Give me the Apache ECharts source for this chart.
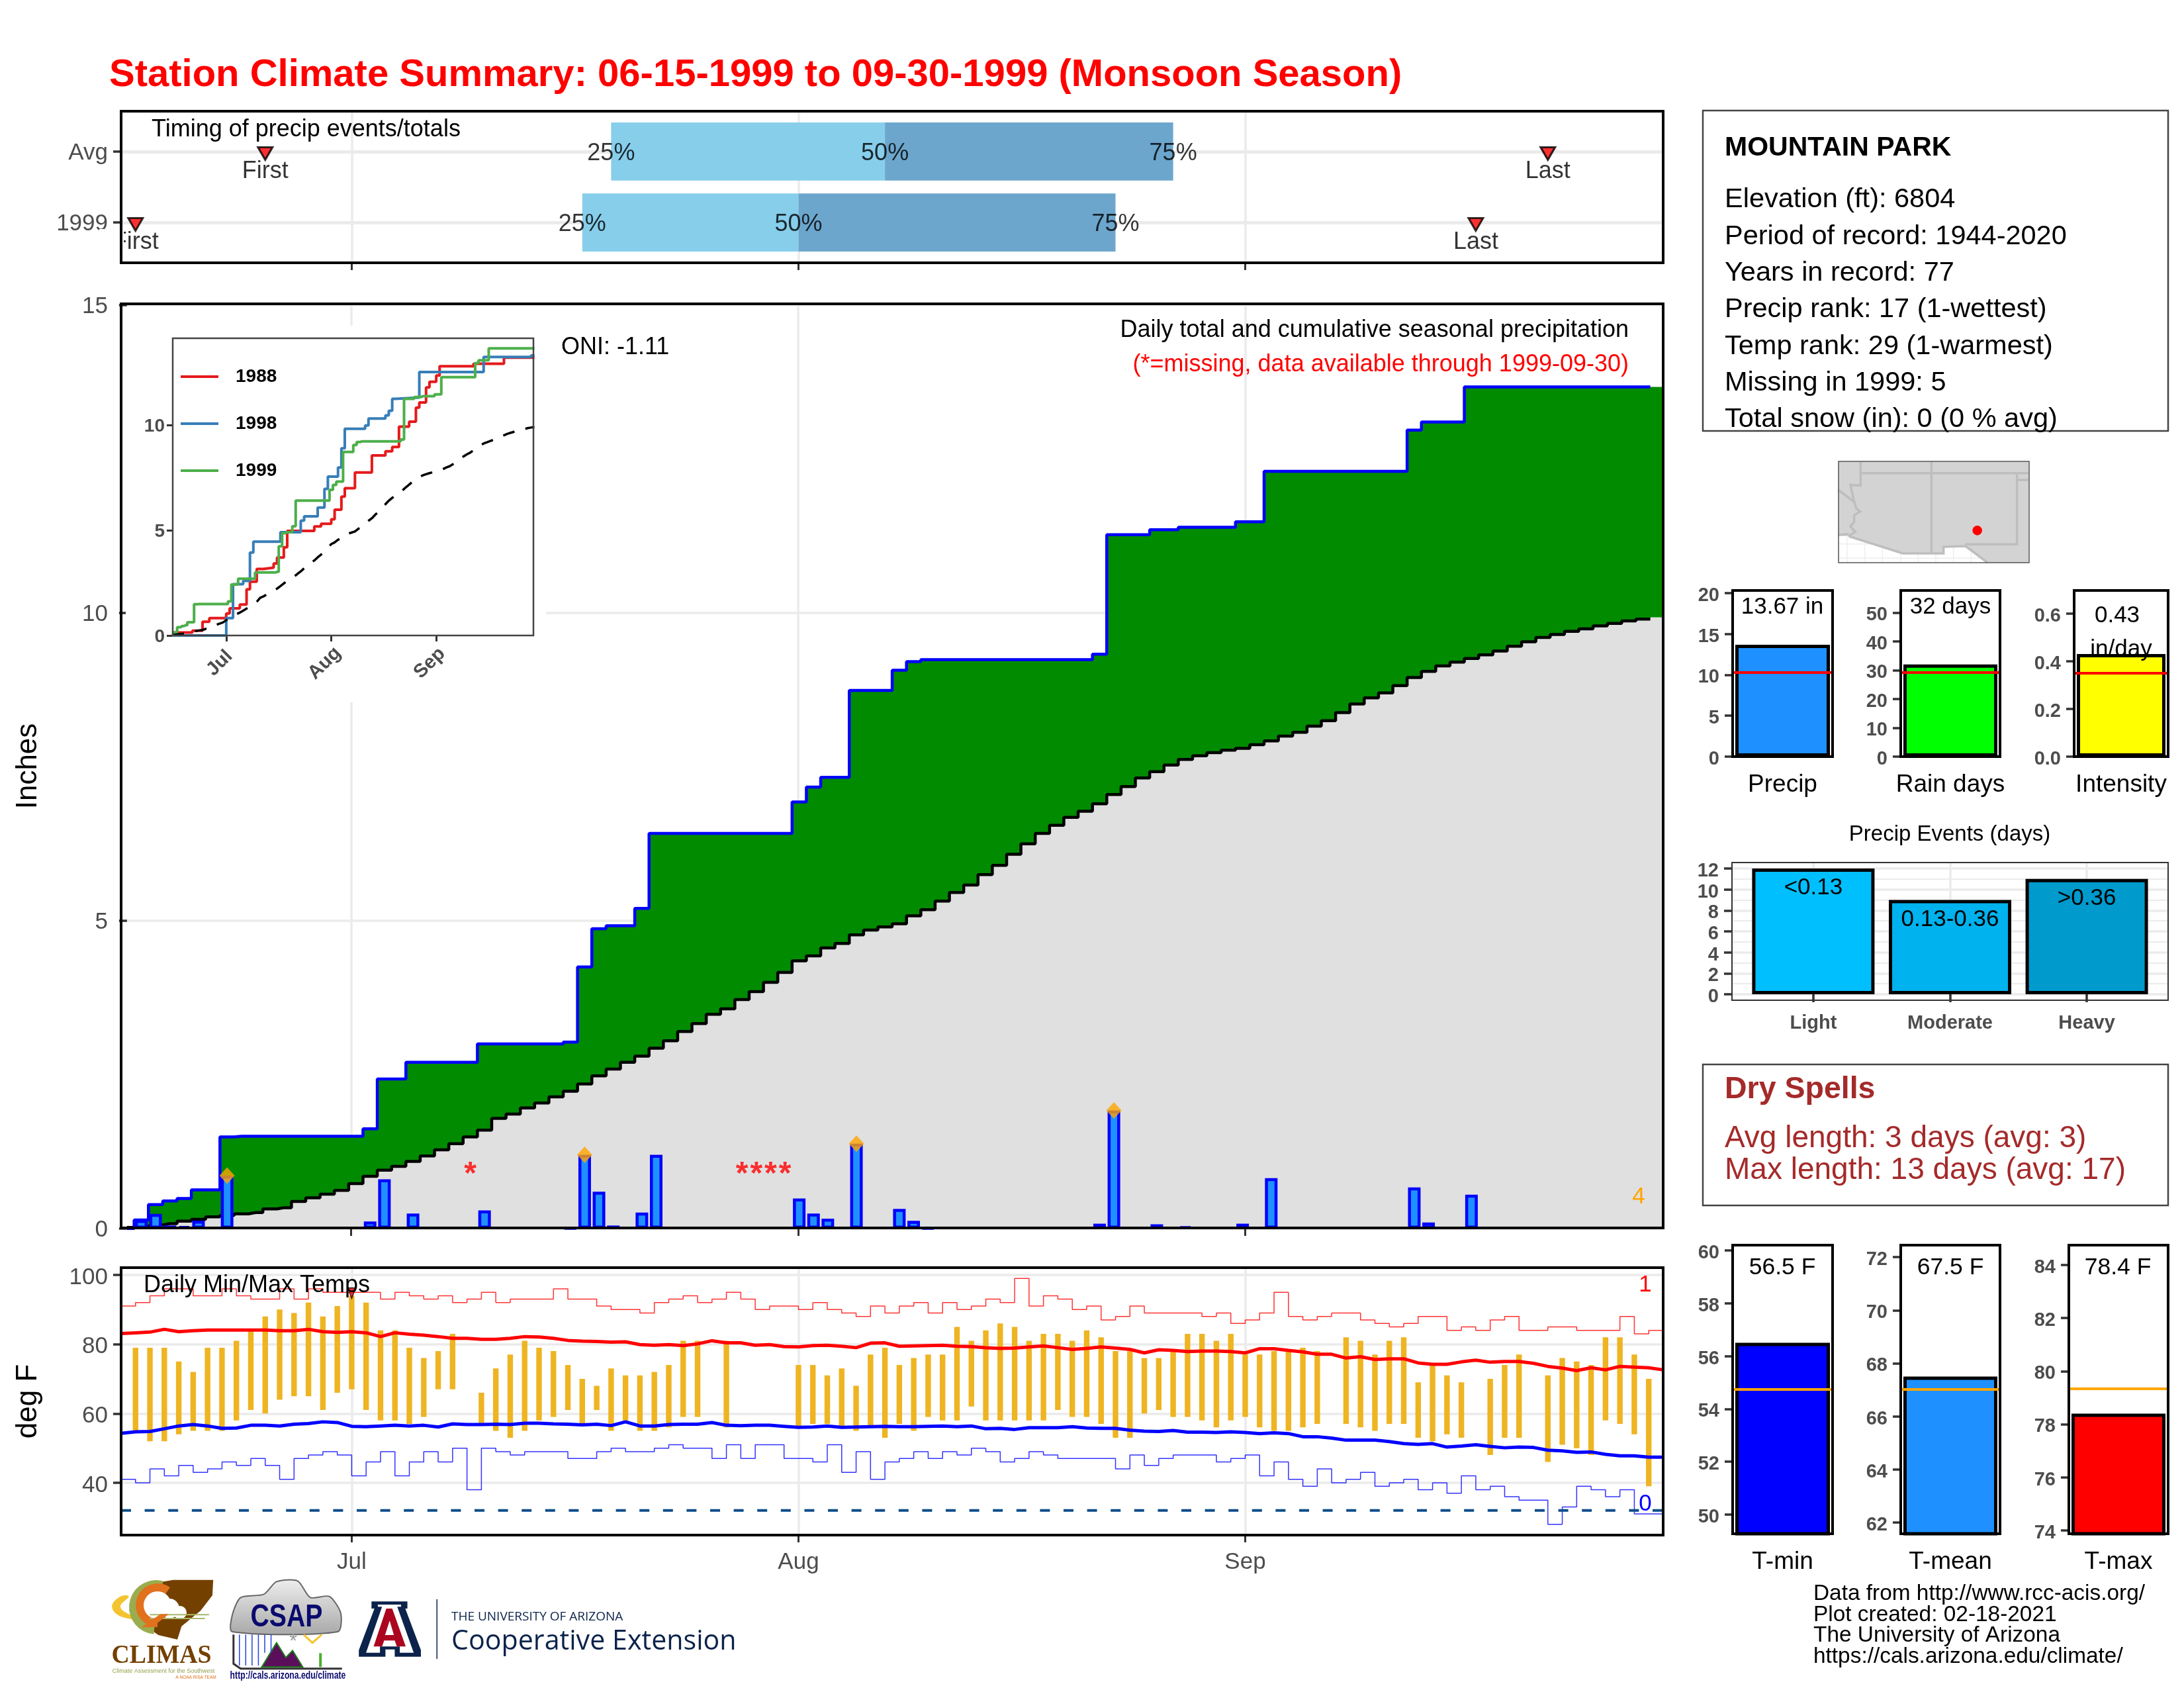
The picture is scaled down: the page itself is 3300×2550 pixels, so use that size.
<!DOCTYPE html>
<html>
<head>
<meta charset="utf-8">
<title>Station Climate Summary</title>
<script src="https://cdn.jsdelivr.net/npm/echarts@6/dist/echarts.min.js"></script>
<style>
html, body { margin: 0; padding: 0; background: #fff; }
#chart { width: 3300px; height: 2550px; }
</style>
</head>
<body>
<div id="chart"></div>
<script>
// day index: 0 = Jun 15, 16 = Jul 1, 47 = Aug 1, 78 = Sep 1, 107 = Sep 30
var monthDays = [16, 47, 78];
var monthNames = ['Jul', 'Aug', 'Sep'];
// the precip panel is plotted per row of data, so its month ticks sit a little off the day index
var precipMonthTicks = [15.66, 46.92, 78.17];

// timing panel
var timingRows = [2, 1];
var timingLabels = ['Avg', '1999'];
var pct25 = [34, 32];
var pct50 = [53, 47];
var pct75 = [73, 69];
var firstDay = [10, 1];
var lastDay = [99, 94];

// daily precip (in), 0 = nothing drawn
var precipDaily = [
  0, .14, .24, .05, .04, .13, 0, .86, 0, 0, 0, 0, 0, 0, 0, 0, 0, .115, .80, 0,
  .245, 0, 0, 0, 0, .295, 0, 0, 0, 0, 0, .01, 1.2, .60, .05, 0, .26, 1.2, 0, 0,
  0, 0, 0, 0, 0, 0, 0, .49, .245, .16, 0, 1.38, 0, 0, .32, .125, .01, 0, 0, 0,
  0, 0, 0, 0, 0, 0, 0, 0, .08, 1.92, 0, 0, .07, 0, .03, 0, 0, 0, .08, 0,
  .82, 0, 0, 0, 0, 0, 0, 0, 0, 0, .67, .10, 0, 0, .55, 0, 0, 0, 0, 0,
  0, 0, 0, 0, 0, 0, 0, 0
];
var cum1999 = [
  0, .14, .39, .45, .49, .63, .63, 1.49, 1.5, 1.5, 1.5, 1.5, 1.5, 1.5, 1.5, 1.5, 1.5, 1.62, 2.43, 2.43,
  2.7, 2.7, 2.7, 2.7, 2.7, 3, 3, 3, 3, 3, 3, 3.03, 4.25, 4.87, 4.92, 4.92, 5.2, 6.42, 6.42, 6.42,
  6.42, 6.42, 6.42, 6.42, 6.42, 6.42, 6.42, 6.93, 7.17, 7.33, 7.33, 8.74, 8.74, 8.74, 9.07, 9.21, 9.24, 9.24, 9.24, 9.24,
  9.24, 9.24, 9.24, 9.24, 9.24, 9.24, 9.24, 9.24, 9.33, 11.27, 11.27, 11.27, 11.35, 11.35, 11.39, 11.39, 11.39, 11.39, 11.48, 11.48,
  12.3, 12.3, 12.3, 12.3, 12.3, 12.3, 12.3, 12.3, 12.3, 12.3, 12.97, 13.1, 13.1, 13.1, 13.67, 13.67, 13.67, 13.67, 13.67, 13.67,
  13.67, 13.67, 13.67, 13.67, 13.67, 13.67, 13.67, 13.67
];
var cumAvg = [
  .02, .04, .06, .08, .12, .15, .19, .215, .24, .26, .32, .34, .44, .5, .56, .62, .73, .85, .95, 1.01,
  1.09, 1.18, 1.28, 1.38, 1.49, 1.6, 1.79, 1.86, 1.96, 2.04, 2.14, 2.23, 2.35, 2.48, 2.59, 2.7, 2.8, 2.93, 3.05, 3.2,
  3.33, 3.48, 3.57, 3.72, 3.85, 4, 4.16, 4.35, 4.43, 4.56, 4.63, 4.77, 4.85, 4.9, 4.95, 5.08, 5.18, 5.32, 5.46, 5.58,
  5.75, 5.9, 6.08, 6.25, 6.42, 6.55, 6.68, 6.78, 6.9, 7.05, 7.18, 7.32, 7.42, 7.53, 7.62, 7.68, 7.73, 7.77, 7.8, 7.86,
  7.92, 8, 8.06, 8.16, 8.25, 8.38, 8.52, 8.62, 8.7, 8.82, 8.95, 9.05, 9.14, 9.2, 9.26, 9.32, 9.38, 9.46, 9.53, 9.6,
  9.65, 9.7, 9.74, 9.79, 9.83, 9.87, 9.9, 9.93
];
var missingDays = [24, 43, 44, 45, 46];
var missingLevel = .97;
var heavyDays = [7, 32, 51, 69];

// inset comparison years, each pair is [day, total from that day on]
var steps1988 = [[0,.14],[6,.23],[9,.65],[11,.83],[16,1.05],[17,1.29],[20,1.47],[22,2.2],[23,2.56],[25,3.17],[27,3.23],[30,3.43],[31,3.71],[33,4.2],[34,4.98],[42,5.19],[44,5.32],[47,5.53],[48,5.99],[50,6.61],[51,7.01],[54,7.76],[59,8.57],[63,8.77],[65,8.97],[67,9.94],[70,10.18],[72,10.85],[73,11.09],[75,11.81],[76,12.08],[78,12.38],[79,12.82],[89,12.94],[98,13.23],[107,13.23]];
var steps1998 = [[0,0],[16,.83],[18,2.44],[21,2.6],[23,3.95],[24,4.47],[32,4.92],[38,5.47],[39,5.67],[43,6.09],[45,6.98],[46,7.56],[49,8],[50,8.91],[51,9.84],[57,10],[58,10.33],[63,10.48],[64,10.7],[65,11.27],[66,11.33],[73,12.54],[92,13.26],[106,13.33],[107,13.33]];

// daily temps (F)
var tempHi = [
  null, 79, 79, 79, 75, 72, 79, 79, 81, 84, 88, 90, 89, 92, 88, 91, 94, 92, 84, 84,
  79, 76, 78, 83, null, 66, 73, 77, 81, 79, 78, 74, 70, 68, 73, 71, 71, 72, 74, 81,
  81, null, 81, null, null, null, null, 74, 74, 71, 73, 68, 77, 79, 74, 76, 77, 77, 85, 81,
  84, 86, 85, 81, 83, 83, 81, 84, 82, 78, 78, 76, 76, 78, 83, 83, 81, 83, 77, 77,
  78, 78, 79, 78, null, 82, 81, 77, 81, 82, 69, 74, 71, 69, null, 70, 74, 77, null, 71,
  76, 75, 74, 82, 82, 77, 70, null
];
var tempLo = [
  null, 55, 52, 52, 54, 55, 55, 55, 58, 61, 60, 64, 65, 65, 61, 66, 67, 61, 58, 58,
  57, 59, 67, 67, null, 57, 55, 53, 55, 58, 59, 61, 57, 61, 55, 58, 55, 55, 56, 59,
  59, null, 56, null, null, null, null, 56, 57, 57, 56, 55, 56, 53, 57, 55, 59, 58, 58, 62,
  58, 58, 58, 58, 58, 61, 59, 59, 57, 53, 53, 60, 61, 59, 59, 58, 56, 58, 59, 56,
  55, 55, 56, 57, null, 57, 56, 55, 57, 57, 53, 52, 54, 53, null, 48, 53, 53, null, 46,
  51, 50, 48, 58, 57, 54, 39, null
];
var recordHigh = [
  91, 92, 94, 96, 96, 94, 94, 96, 94, 93, 93, 96, 93, 96, 95, 95, 95, 95, 93, 95,
  94, 93, 94, 92, 93, 95, 92, 93, 93, 93, 96, 93, 93, 91, 90, 90, 89, 92, 93, 94,
  92, 93, 95, 93, 90, 91, 91, 90, 92, 90, 89, 88, 91, 89, 91, 92, 89, 92, 90, 91,
  93, 92, 99, 91, 94, 93, 90, 91, 87, 88, 91, 89, 89, 89, 89, 88, 89, 86, 87, 89,
  95, 88, 87, 88, 89, 89, 87, 86, 85, 86, 88, 88, 84, 85, 84, 87, 88, 84, 84, 85,
  85, 84, 84, 84, 88, 83, 84
];
var recordLow = [
  41, 40, 44, 42, 45, 43, 44, 46, 45, 47, 45, 41, 47, 48, 49, 48, 42, 46, 49, 42,
  46, 49, 46, 50, 38, 50, 49, 48, 49, 49, 49, 47, 47, 49, 50, 49, 49, 50, 51, 50,
  50, 47, 51, 47, 51, 51, 47, 47, 46, 51, 43, 49, 41, 46, 47, 49, 47, 49, 48, 50,
  49, 46, 47, 49, 48, 47, 47, 47, 47, 44, 48, 45, 47, 48, 48, 48, 46, 47, 48, 42,
  46, 41, 39, 44, 40, 41, 43, 39, 40, 41, 38, 40, 37, 42, 38, 39, 36, 35, 35, 28,
  33, 39, 38, 36, 38, 31, 31
];
var avgHigh = [
  83.1, 83.3, 83.5, 84.3, 83.6, 83.9, 84.1, 84.1, 84.1, 84.1, 84.1, 83.9, 83.9, 84.3, 83.6, 83.4, 83.6, 83.3, 82.2, 83.3,
  82.9, 82.6, 82.2, 81.7, 81.7, 81.4, 81.4, 81.7, 82.2, 82.1, 81.7, 81.1, 80.9, 80.8, 80.6, 80.7, 79.9, 79.7, 79.9, 79.6,
  80.1, 81, 80.4, 80.4, 79.7, 79.9, 79.3, 79.2, 79.6, 79.7, 79.4, 79, 80.3, 80.4, 79.4, 79.5, 79.6, 79.7, 79.4, 79.3,
  79, 78.8, 78.9, 79.2, 79.5, 79, 78.5, 78.8, 79.2, 78.9, 78.5, 77.5, 78.4, 78.2, 77.9, 78, 78, 77.9, 77.5, 78.7,
  78.7, 78.2, 77.8, 77.1, 77.1, 76, 76.4, 75.6, 75.8, 75.8, 74.6, 74.2, 74.2, 74.9, 75.4, 74.8, 75, 75, 74.5, 73.6,
  73.1, 72.4, 73.2, 72.6, 73.6, 73.4, 73.2, 72.6
];
var avgLow = [
  54.3, 54.7, 54.8, 55.6, 56.4, 56.8, 56.4, 55.7, 55.8, 56.6, 56.6, 56.4, 56.9, 57.1, 57.6, 57.4, 56.3, 56.2, 56.4, 56.6,
  56.4, 56.6, 56.1, 57, 56.8, 56.8, 56.9, 56.8, 57.2, 57.2, 57, 56.9, 56.7, 56.9, 56.5, 57.6, 56.4, 56.4, 56.8, 56.9,
  56.9, 57.4, 56.6, 56.5, 56.6, 56.6, 56.3, 56, 56.1, 56.4, 56, 56.1, 56.2, 56.3, 56.2, 56.2, 56.3, 56.4, 56.2, 56.4,
  55.6, 55.7, 55.4, 55.9, 55.9, 55.9, 56.2, 55.8, 55.7, 55.7, 55.2, 54.9, 54.8, 55.1, 54.6, 54.6, 54.5, 54.7, 54.5, 54.2,
  54.4, 54.2, 53.3, 53.3, 52.9, 52.3, 52.3, 52.3, 51.9, 51.3, 51.1, 51.3, 50.3, 50.6, 51, 50.5, 50.1, 50.3, 50.2, 49.4,
  49.2, 48.8, 48.9, 48.2, 47.8, 47.8, 47.4, 47.4
];
var freezeLine = 32;
var recordMarkDay = 16, recordMarkTemp = 94.7;

// summary bars
var precipSummary = { name: 'Precip', value: 13.67, avg: 10.3, ticks: [0, 5, 10, 15, 20], max: 20.3 };
var rainSummary = { name: 'Rain days', value: 32, avg: 29.3, ticks: [0, 10, 20, 30, 40, 50], max: 57.7 };
var intensitySummary = { name: 'Intensity', value: .43, avg: .352, ticks: [0, .2, .4, .6], max: .696 };
var tminSummary = { name: 'T-min', value: 56.5, avg: 54.73, ticks: [50, 52, 54, 56, 58, 60], min: 49.27, max: 60.2 };
var tmeanSummary = { name: 'T-mean', value: 67.5, avg: 67.03, ticks: [62, 64, 66, 68, 70, 72], min: 61.58, max: 72.45 };
var tmaxSummary = { name: 'T-max', value: 78.4, avg: 79.33, ticks: [74, 76, 78, 80, 82, 84], min: 73.87, max: 84.75 };
var eventNames = ['Light', 'Moderate', 'Heavy'];
var eventDays = [12, 9, 11];
var eventLabels = ['<0.13', '0.13-0.36', '>0.36'];
var eventColors = ['#00BFFF', '#00B2EE', '#009ACD'];

var infoLines = ['Elevation (ft): 6804', 'Period of record: 1944-2020', 'Years in record: 77', 'Precip rank: 17 (1-wettest)', 'Temp rank: 29 (1-warmest)', 'Missing in 1999: 5', 'Total snow (in): 0 (0 % avg)'];
var footLines = ['Data from http://www.rcc-acis.org/', 'Plot created: 02-18-2021', 'The University of Arizona', 'https://cals.arizona.edu/climate/'];

var FONT = '"Liberation Sans", Arial, sans-serif';
var GRID = '#EBEBEB', TICK = '#333333', LABEL = '#4D4D4D';

function pairs(arr) {
    return arr.map(function (v, i) { return [i, v]; }).filter(function (p) { return p[1] !== null; });
}

// grid from pixel box, outerBoundsMode off so long axis names do not shrink it
function box(l, t, r, b) {
    return { left: l, top: t, width: r - l, height: b - t, containLabel: false, outerBoundsMode: 'none' };
}

function txt(x, y, s, size, opt) {
    opt = opt || {};
    return {
        type: 'text', z: opt.z || 50, rotation: opt.rotation || 0, x: x, y: y, scaleX: opt.scaleX || 1,
        style: {
            text: s, fill: opt.color || '#000',
            font: (opt.weight || 'normal') + ' ' + size + 'px ' + (opt.family || FONT),
            align: opt.align || 'left', textAlign: opt.align || 'left',
            verticalAlign: 'middle', textVerticalAlign: 'middle', textBaseline: 'middle'
        }
    };
}

function border(l, t, r, b, w, color) {
    return {
        type: 'rect', z: 40, shape: { x: l, y: t, width: r - l, height: b - t },
        style: { fill: 'none', stroke: color || '#000', lineWidth: w || 4 }
    };
}

function monthAxis(gridIndex, withLabels, size) {
    return {
        type: 'value', gridIndex: gridIndex, min: 0, max: 107,
        axisLine: { show: false },
        axisTick: { show: true, length: 11, customValues: monthDays, lineStyle: { color: TICK, width: 3 } },
        axisLabel: {
            show: !!withLabels, customValues: monthDays, fontFamily: FONT, fontSize: size || 35, color: LABEL, margin: 24,
            formatter: function (v) { return monthNames[monthDays.indexOf(v)]; }
        },
        splitLine: { show: true, lineStyle: { color: GRID, width: 3.5 } }
    };
}

function valueAxis(gridIndex, min, max, ticks, opt) {
    opt = opt || {};
    var pad = opt.labelPad === undefined ? 8 : opt.labelPad;
    var fmt = opt.formatter || String;
    return {
        type: 'value', gridIndex: gridIndex, min: min, max: max,
        name: opt.name, nameLocation: 'middle', nameGap: opt.nameGap, nameRotate: 90,
        nameTextStyle: { fontFamily: FONT, fontSize: 44, color: '#000' },
        axisLine: { show: false },
        axisTick: { show: true, length: 12, customValues: ticks, lineStyle: { color: TICK, width: 3.5 } },
        axisLabel: {
            show: true, customValues: ticks, margin: opt.margin || 20,
            formatter: function (v) { return '{t|' + fmt(v) + '}'; },
            // rich padding, plain padding does not move the tick labels
            rich: { t: { fontFamily: FONT, fontSize: opt.size || 35, color: LABEL, fontWeight: opt.weight || 'normal', padding: [pad, 0, 0, 0] } }
        },
        splitLine: { show: !!opt.grid, lineStyle: { color: GRID, width: opt.gridWidth || 3.5 } }
    };
}

var grids = [], xAxes = [], yAxes = [], series = [], graphics = [];

// timing panel
grids.push(box(183, 168, 2513, 397));
xAxes.push(monthAxis(0, false));
yAxes.push(valueAxis(0, .43, 2.57, timingRows, {
    grid: true, gridWidth: 5, labelPad: 4,
    formatter: function (v) { return timingLabels[timingRows.indexOf(v)]; }
}));
var timingBands = [];
timingRows.forEach(function (row, i) {
    timingBands.push([row, pct25[i], pct50[i], '#87CEEB']);
    timingBands.push([row, pct50[i], pct75[i], '#6CA6CD']);
});
series.push({
    type: 'custom', xAxisIndex: 0, yAxisIndex: 0, z: 2, data: timingBands,
    renderItem: function (params, api) {
        var row = timingBands[params.dataIndex];
        var a = api.coord([row[1], row[0] + .41]);
        var b = api.coord([row[2], row[0] - .41]);
        return { type: 'rect', shape: { x: a[0], y: a[1], width: b[0] - a[0], height: b[1] - a[1] }, style: { fill: row[3] } };
    }
});
var pctLabelData = [];
timingRows.forEach(function (row, i) {
    pctLabelData.push({ value: [pct25[i], row], name: '25%' });
    pctLabelData.push({ value: [pct50[i], row], name: '50%' });
    pctLabelData.push({ value: [pct75[i], row], name: '75%' });
});
series.push({
    type: 'scatter', xAxisIndex: 0, yAxisIndex: 0, z: 3, symbolSize: 1, itemStyle: { color: 'none' },
    data: pctLabelData,
    label: { show: true, position: 'inside', offset: [0, 3], formatter: '{b}', fontFamily: FONT, fontSize: 36, color: '#000' }
});
var eventMarks = [];
timingRows.forEach(function (row, i) {
    eventMarks.push({ value: [firstDay[i], row], name: 'First' });
    eventMarks.push({ value: [lastDay[i], row], name: 'Last' });
});
series.push({
    type: 'scatter', xAxisIndex: 0, yAxisIndex: 0, z: 4, symbol: 'triangle', symbolRotate: 180, symbolSize: [22, 19],
    symbolOffset: [0, 3], itemStyle: { color: '#FF0000', borderColor: '#000', borderWidth: 3 },
    data: eventMarks,
    label: { show: true, position: 'bottom', distance: -2, formatter: '{b}', fontFamily: FONT, fontSize: 36, color: '#000' }
});

// main precip panel
grids.push(box(183, 459, 2513, 1856));
var mainX = monthAxis(1, false);
mainX.min = -.41;
mainX.max = 107.4;
mainX.axisTick.customValues = precipMonthTicks;
mainX.axisLabel.customValues = precipMonthTicks;
mainX.containShape = false;
xAxes.push(mainX);
yAxes.push(valueAxis(1, 0, 15.02, [0, 5, 10, 15], { grid: true, name: 'Inches', nameGap: 118, labelPad: 4 }));
series.push({
    type: 'line', xAxisIndex: 1, yAxisIndex: 1, z: 2, step: 'middle', showSymbol: false,
    data: pairs(cum1999).concat([[107.4, cum1999[107]]]),
    lineStyle: { width: 0 }, areaStyle: { color: '#008B00', opacity: 1 }
});
series.push({
    type: 'line', xAxisIndex: 1, yAxisIndex: 1, z: 3, step: 'middle', showSymbol: false,
    data: pairs(cumAvg).concat([[107.4, cumAvg[107]]]),
    lineStyle: { width: 0 }, areaStyle: { color: '#E0E0E0', opacity: 1 }
});
series.push({
    type: 'line', xAxisIndex: 1, yAxisIndex: 1, z: 4, step: 'middle', showSymbol: false,
    data: pairs(cumAvg.slice(0, 107)).concat([[106.5, cumAvg[106]]]),
    lineStyle: { color: '#000', width: 4.5 }
});
series.push({
    type: 'line', xAxisIndex: 1, yAxisIndex: 1, z: 5, step: 'middle', showSymbol: false,
    data: pairs(cum1999.slice(0, 107)).concat([[106.5, cum1999[106]]]),
    lineStyle: { color: '#0000FF', width: 4.5 }
});
series.push({
    type: 'bar', xAxisIndex: 1, yAxisIndex: 1, z: 6, barWidth: 19,
    data: pairs(precipDaily).filter(function (p) { return p[1] > 0; }),
    itemStyle: { color: '#1E90FF', borderColor: '#0000FF', borderWidth: 4.5 }
});
series.push({
    type: 'scatter', xAxisIndex: 1, yAxisIndex: 1, z: 7, symbol: 'diamond', symbolSize: [23, 25],
    itemStyle: { color: '#FFA500' },
    data: heavyDays.map(function (d) { return [d, precipDaily[d]]; })
});
series.push({
    type: 'scatter', xAxisIndex: 1, yAxisIndex: 1, z: 7, symbolSize: 1, itemStyle: { color: 'none' },
    data: missingDays.map(function (d) { return [d, missingLevel]; }),
    label: { show: true, position: 'inside', offset: [0, 9], formatter: '*', fontFamily: FONT, fontSize: 48, fontWeight: 'bold', color: '#FF0000' }
});

// temperature panel
grids.push(box(183, 1915, 2513, 2319));
xAxes.push(monthAxis(2, true));
yAxes.push(valueAxis(2, 24.9, 102.1, [40, 60, 80, 100], { grid: true, name: 'deg F', nameGap: 118 }));
var tempBars = [];
tempHi.forEach(function (hi, i) {
    if (hi !== null) tempBars.push([i, tempLo[i], hi]);
});
series.push({
    type: 'custom', xAxisIndex: 2, yAxisIndex: 2, z: 2, data: tempBars,
    renderItem: function (params, api) {
        var a = api.coord([api.value(0), api.value(2)]);
        var b = api.coord([api.value(0), api.value(1)]);
        return { type: 'rect', shape: { x: a[0] - 4.2, y: a[1], width: 8.4, height: b[1] - a[1] }, style: { fill: '#EEB422' } };
    }
});
function thinLine(values, color) {
    return {
        type: 'line', xAxisIndex: 2, yAxisIndex: 2, z: 3, step: 'end', showSymbol: false,
        data: pairs(values).concat([[107, values[values.length - 1]]]),
        lineStyle: { color: color, width: 1.5, opacity: .8 }
    };
}
series.push(thinLine(recordHigh, '#FF0000'));
series.push(thinLine(recordLow, '#0000FF'));
series.push({
    type: 'line', xAxisIndex: 2, yAxisIndex: 2, z: 4, showSymbol: false, data: [[0, freezeLine], [107, freezeLine]],
    lineStyle: { color: '#104E8B', width: 4, type: [15, 20.6] }
});
series.push({ type: 'line', xAxisIndex: 2, yAxisIndex: 2, z: 5, showSymbol: false, data: pairs(avgHigh), lineStyle: { color: '#FF0000', width: 5 } });
series.push({ type: 'line', xAxisIndex: 2, yAxisIndex: 2, z: 5, showSymbol: false, data: pairs(avgLow), lineStyle: { color: '#0000FF', width: 5 } });
series.push({
    type: 'scatter', xAxisIndex: 2, yAxisIndex: 2, z: 6, symbol: 'triangle', symbolRotate: 180, symbolSize: [12, 16],
    itemStyle: { color: '#FF0000', borderColor: '#000', borderWidth: 1.5 }, data: [[recordMarkDay, recordMarkTemp]]
});

// inset with comparison years
grids.push(box(261, 511, 806, 960));
var insetX = monthAxis(3, true, 29);
insetX.z = 11;
insetX.min = .2;
insetX.max = 106.7;
insetX.splitLine = { show: false };
insetX.axisTick.length = 9;
insetX.axisLabel.rotate = 45;
insetX.axisLabel.align = 'center';
insetX.axisLabel.verticalAlign = 'middle';
insetX.axisLabel.margin = 32;
insetX.axisLabel.formatter = function (v) { return '{m|' + monthNames[monthDays.indexOf(v)] + '}'; };
insetX.axisLabel.rich = { m: { fontFamily: FONT, fontSize: 29, fontWeight: 'bold', color: LABEL, padding: [0, 28, 0, 0] } };
xAxes.push(insetX);
var insetY = valueAxis(3, 0, 14.15, [0, 5, 10], { size: 28, weight: 'bold', margin: 12, labelPad: 4 });
insetY.z = 11;
insetY.axisTick.length = 9;
insetY.axisTick.lineStyle.width = 3;
yAxes.push(insetY);
function insetLine(name, data, color, step) {
    return {
        name: name, type: 'line', xAxisIndex: 3, yAxisIndex: 3, z: 12, step: step, showSymbol: false, data: data,
        itemStyle: { color: color }, lineStyle: { color: color, width: 4 }
    };
}
series.push(insetLine('1988', steps1988, '#E41A1C', 'end'));
series.push(insetLine('1998', steps1998, '#377EB8', 'end'));
series.push(insetLine('1999', pairs(cum1999), '#4DAF4A', 'middle'));
series.push({
    type: 'line', xAxisIndex: 3, yAxisIndex: 3, z: 13, showSymbol: false, data: pairs(cumAvg),
    lineStyle: { color: '#000', width: 3.5, type: [18, 17] }
});

// small summary bars
function summaryPanel(item, l, t, r, b, barWidth, lineColor) {
    var idx = grids.length;
    grids.push(box(l, t, r, b));
    xAxes.push({ type: 'category', gridIndex: idx, data: [item.name], axisLine: { show: false }, axisTick: { show: false }, axisLabel: { show: false } });
    yAxes.push(valueAxis(idx, item.min || 0, item.max, item.ticks, {
        size: 29, weight: 'bold', margin: 20,
        formatter: function (v) { return item.value < 1 ? v.toFixed(1) : String(v); }
    }));
    series.push({
        type: 'bar', xAxisIndex: idx, yAxisIndex: idx, z: 3, barWidth: barWidth, data: [item.value],
        itemStyle: { color: item.color, borderColor: '#000', borderWidth: 5 },
        markLine: {
            silent: true, symbol: 'none', animation: false, label: { show: false },
            lineStyle: { color: lineColor, width: 4, type: 'solid' }, data: [{ yAxis: item.avg }]
        }
    });
    graphics.push(border(l, t, r, b, 4));
    graphics.push(txt((l + r) / 2, b + 43, item.name, 37, { align: 'center' }));
}
precipSummary.color = '#1E90FF';
rainSummary.color = '#00FF00';
intensitySummary.color = '#FFFF00';
tminSummary.color = '#0000FF';
tmeanSummary.color = '#1E90FF';
tmaxSummary.color = '#FF0000';
summaryPanel(precipSummary, 2618, 892, 2769, 1143, 143, '#FF0000');
summaryPanel(rainSummary, 2872, 892, 3022, 1143, 142, '#FF0000');
summaryPanel(intensitySummary, 3134, 892, 3276, 1143, 134, '#FF0000');
summaryPanel(tminSummary, 2618, 1881, 2769, 2317, 143, '#FFA500');
summaryPanel(tmeanSummary, 2872, 1881, 3022, 2317, 142, '#FFA500');
summaryPanel(tmaxSummary, 3126, 1881, 3276, 2317, 142, '#FFA500');

// precip events panel
var evIdx = grids.length;
grids.push(box(2617, 1303, 3276, 1511));
xAxes.push({
    type: 'value', gridIndex: evIdx, min: .405, max: 3.595, containShape: false,
    axisLine: { show: false },
    axisTick: { show: true, length: 12, customValues: [1, 2, 3], lineStyle: { color: TICK, width: 3.5 } },
    axisLabel: {
        show: true, customValues: [1, 2, 3], fontFamily: FONT, fontSize: 29, fontWeight: 'bold', color: LABEL, margin: 20,
        formatter: function (v) { return eventNames[v - 1]; }
    },
    splitLine: { show: true, lineStyle: { color: GRID, width: 3.5 } }
});
yAxes.push(valueAxis(evIdx, -.57, 12.57, [0, 2, 4, 6, 8, 10, 12], { grid: true, size: 29, weight: 'bold', margin: 20 }));
// second axis only for the minor grid lines
var evMinor = valueAxis(evIdx, -.57, 12.57, [1, 3, 5, 7, 9, 11], { grid: true, gridWidth: 1.8 });
evMinor.axisTick.show = false;
evMinor.axisLabel.show = false;
evMinor.position = 'left';
var evMinorIndex = yAxes.length;
yAxes.push(evMinor);
series.push({
    type: 'bar', xAxisIndex: evIdx, yAxisIndex: evMinorIndex - 1, z: 3, barWidth: 185,
    data: eventDays.map(function (v, i) {
        return { value: [i + 1, v], name: eventLabels[i], itemStyle: { color: eventColors[i] } };
    }),
    itemStyle: { borderColor: '#000', borderWidth: 5 },
    label: { show: true, position: 'insideTop', distance: 12, formatter: '{b}', fontFamily: FONT, fontSize: 35, color: '#000' }
});
graphics.push(border(2617, 1303, 3276, 1511, 2, '#333'));
graphics.push(txt(2946, 1261, 'Precip Events (days)', 33, { align: 'center' }));

// white box behind inset so main grid lines stop there
graphics.push({ type: 'rect', z: 10, shape: { x: 190, y: 492, width: 635, height: 569 }, style: { fill: '#fff' } });
graphics.push(border(261, 511, 806, 960, 2.5, '#444'));

// panel frames
graphics.push(border(183, 168, 2513, 397, 4));
graphics.push(border(183, 459, 2513, 1855, 4));
graphics.push(border(183, 1915, 2513, 2319, 4));

// cuts off the F of the first label at the panel edge
graphics.push({ type: 'rect', z: 39, shape: { x: 150, y: 346, width: 37, height: 40 }, style: { fill: '#fff' } });

// text inside the panels
graphics.push(txt(229, 196, 'Timing of precip events/totals', 36));
graphics.push(txt(848, 525, 'ONI: -1.11', 36));
graphics.push(txt(2461, 499, 'Daily total and cumulative seasonal precipitation', 36, { align: 'right' }));
graphics.push(txt(2461, 551, '(*=missing, data available through 1999-09-30)', 36, { align: 'right', color: '#FF0000' }));
graphics.push(txt(2476, 1808, '4', 35, { align: 'center', color: '#FFA500' }));
graphics.push(txt(217, 1942, 'Daily Min/Max Temps', 36));
graphics.push(txt(2486, 1941, '1', 35, { align: 'center', color: '#FF0000' }));
graphics.push(txt(2486, 2272, '0', 35, { align: 'center', color: '#0000FF' }));

// notes on the summary bars
graphics.push(txt(2693, 917, '13.67 in', 35, { align: 'center' }));
graphics.push(txt(2947, 917, '32 days', 35, { align: 'center' }));
graphics.push(txt(3199, 930, '0.43', 35, { align: 'center' }));
graphics.push(txt(3205, 981, 'in/day', 35, { align: 'center' }));
graphics.push(txt(2693, 1915, '56.5 F', 35.5, { align: 'center' }));
graphics.push(txt(2947, 1915, '67.5 F', 35.5, { align: 'center' }));
graphics.push(txt(3200, 1915, '78.4 F', 35.5, { align: 'center' }));

// station info box
graphics.push(border(2573, 167, 3276, 651, 2.5, '#444'));
graphics.push(txt(2606, 224, 'MOUNTAIN PARK', 41, { weight: 'bold' }));
infoLines.forEach(function (line, i) {
    graphics.push(txt(2606, 302 + i * 55.3, line, 41.5));
});

// dry spell box
graphics.push(border(2573, 1608, 3276, 1821, 2.5, '#444'));
graphics.push(txt(2606, 1646, 'Dry Spells', 46.5, { weight: 'bold', color: '#A52A2A' }));
graphics.push(txt(2606, 1720, 'Avg length: 3 days (avg: 3)', 46, { color: '#A52A2A' }));
graphics.push(txt(2606, 1768, 'Max length: 13 days (avg: 17)', 46, { color: '#A52A2A' }));

// footer
footLines.forEach(function (line, i) {
    graphics.push(txt(2740, 2408 + i * 31.5, line, 33.4));
});

// locator map, drawn in the pixel space of the crop it was read from
function mp(pts) {
    return pts.map(function (p) { return [2770 + p[0] / 3, 690 + p[1] / 3]; });
}
function mapLine(pts) {
    return { type: 'polyline', z: 30, shape: { points: mp(pts) }, style: { fill: 'none', stroke: '#BEBEBE', lineWidth: 3.5 } };
}
graphics.push({ type: 'rect', z: 28, shape: { x: 2778, y: 697, width: 288, height: 153 }, style: { fill: '#fff' } });
[63, 143, 223, 305, 385, 465, 545, 625].forEach(function (zx) {
    graphics.push({ type: 'polyline', z: 28, shape: { points: mp([[zx, 360], [zx, 480]]) }, style: { stroke: '#EEE', lineWidth: 1.5, fill: 'none' } });
});
[395, 460].forEach(function (zy) {
    graphics.push({ type: 'polyline', z: 28, shape: { points: mp([[23, zy], [700, zy]]) }, style: { stroke: '#EEE', lineWidth: 1.5, fill: 'none' } });
});
graphics.push({
    type: 'polygon', z: 29,
    shape: { points: mp([[23, 22], [887, 22], [887, 480], [705, 480], [620, 420], [600, 405], [500, 408], [500, 438], [315, 438], [70, 360], [23, 357]]) },
    style: { fill: '#D3D3D3' }
});
graphics.push(mapLine([[23, 150], [95, 205], [105, 235], [122, 248], [95, 265], [95, 295], [78, 315], [100, 340], [70, 360]]));
graphics.push(mapLine([[23, 355], [70, 350]]));
graphics.push(mapLine([[130, 74], [885, 74]]));
graphics.push(mapLine([[124, 22], [124, 130], [78, 128], [85, 160], [95, 205]]));
graphics.push(mapLine([[445, 22], [445, 438]]));
graphics.push(mapLine([[70, 360], [315, 438], [500, 438], [500, 408], [600, 405], [620, 420], [700, 480]]));
graphics.push(mapLine([[833, 74], [833, 397], [598, 397]]));
graphics.push(mapLine([[833, 105], [885, 105]]));
graphics.push({ type: 'circle', z: 31, shape: { cx: 2770 + 653 / 3, cy: 690 + 334 / 3, r: 7.3 }, style: { fill: '#FF0000' } });
graphics.push(border(2778, 697, 3066, 850, 1.5, '#555'));

// logos, rough shapes with real text
function lp(pts) {
    return pts.map(function (p) { return [150 + p[0] / 1.568, 2350 + p[1] / 3]; });
}
function logoPoly(pts, fill, stroke, smooth) {
    return { type: 'polygon', z: 30, shape: { points: lp(pts), smooth: smooth || 0 }, style: { fill: fill, stroke: stroke || 'none', lineWidth: 2 } };
}
function logoLine(pts, color, w) {
    return { type: 'polyline', z: 33, shape: { points: lp(pts) }, style: { fill: 'none', stroke: color, lineWidth: w } };
}
function logoRing(cx, cy, r, r0, fromDeg, toDeg, fill, z) {
    return {
        type: 'sector', z: z, shape: { cx: cx, cy: cy, r: r, r0: r0, startAngle: fromDeg * Math.PI / 180, endAngle: toDeg * Math.PI / 180, clockwise: true },
        style: { fill: fill }
    };
}
function logoDot(cx, cy, r, fill, z) {
    return { type: 'circle', z: z, shape: { cx: cx, cy: cy, r: r }, style: { fill: fill } };
}
// climas
graphics.push(logoPoly([[175, 110], [270, 110], [268, 180], [240, 250], [195, 320], [185, 380], [140, 360], [110, 320], [85, 260], [85, 190], [115, 130]], '#734000'));
graphics.push(logoPoly([[50, 185], [30, 230], [50, 275], [110, 292], [70, 265], [50, 230], [70, 185]], '#F4C430', null, .4));
graphics.push(logoRing(236, 2428, 41, 0, 95, 285, '#9AAD4E', 31));
graphics.push(logoRing(238, 2425, 33, 0, 90, 305, '#E2711D', 32));
graphics.push(logoDot(238, 2425, 21, '#fff', 33));
graphics.push(logoDot(256, 2430, 15, '#fff', 33));
graphics.push(logoDot(272, 2436, 10, '#fff', 33));
graphics.push(logoLine([[120, 268], [260, 268]], '#A9B86A', 2));
graphics.push(logoLine([[120, 285], [250, 285]], '#A9B86A', 2));
graphics.push({ type: 'polygon', z: 34, shape: { points: lp([[100, 325], [145, 265], [165, 265], [125, 325]]) }, style: { fill: '#E2711D' } });
graphics.push(txt(244, 2501, 'CLIMAS', 41, { align: 'center', weight: 'bold', family: '"Liberation Serif", serif', color: '#734000', scaleX: .92 }));
graphics.push(txt(247, 2525, 'Climate Assessment for the Southwest', 9, { align: 'center', color: '#8FA34B' }));
graphics.push(txt(296, 2534, 'A NOAA RISA TEAM', 6.5, { align: 'center', color: '#E2711D' }));
// csap cloud
var cloudFill = { type: 'linear', x: 0, y: 0, x2: 0, y2: 1, colorStops: [{ offset: 0, color: '#EEEEEE' }, { offset: 1, color: '#A8A8A8' }] };
graphics.push(logoPoly([[315, 345], [315, 270], [335, 190], [390, 175], [420, 118], [470, 115], [500, 190], [545, 185], [572, 260], [565, 345]], cloudFill, '#666', .25));
graphics.push(txt(433, 2443, 'CSAP', 49, { align: 'center', weight: 'bold', color: '#0A0A6E', z: 32, scaleX: .8 }));
[332, 347, 362, 377, 392, 407].forEach(function (zx) {
    graphics.push(logoLine([[zx, 358], [zx, zx > 380 ? 440 : 498]], '#2244DD', 1.5));
});
graphics.push(logoLine([[318, 358], [318, 490], [335, 512], [575, 512]], '#333', 3));
graphics.push(logoPoly([[385, 505], [420, 395], [442, 462], [458, 430], [482, 505]], '#5B0F5B', '#1E7D1E'));
graphics.push(logoLine([[524, 442], [524, 505]], '#4CAF2A', 4));
graphics.push(logoLine([[484, 358], [505, 395], [527, 358]], '#F4C430', 3));
graphics.push(txt(443, 2480, '*', 30, { align: 'center', color: '#999', z: 32 }));
graphics.push(txt(435, 2531, 'http://cals.arizona.edu/climate', 17, { align: 'center', weight: 'bold', color: '#0A0A6E', scaleX: .72 }));
// arizona A
graphics.push(logoPoly([[645, 208], [730, 208], [730, 240], [725, 240], [762, 428], [762, 458], [700, 458], [700, 425], [678, 425], [678, 458], [615, 458], [615, 428], [652, 240], [645, 240]], '#0C234B'));
graphics.push(logoPoly([[660, 222], [715, 222], [715, 232], [706, 232], [745, 440], [712, 440], [712, 412], [665, 412], [665, 440], [632, 440], [670, 232], [660, 232]], '#fff'));
graphics.push(logoPoly([[680, 240], [694, 240], [726, 412], [705, 412], [700, 385], [675, 385], [670, 412], [650, 412]], '#AB0520'));
graphics.push(logoPoly([[688, 295], [698, 360], [677, 360]], '#fff'));
graphics.push(logoLine([[800, 198], [800, 468]], '#0C234B', 1.5));
graphics.push(txt(682, 2443, 'THE UNIVERSITY OF ARIZONA', 19, { color: '#0C234B', family: '"Open Sans", sans-serif' }));
graphics.push(txt(682, 2480, 'Cooperative Extension', 41.2, { color: '#0C234B', family: '"Open Sans", sans-serif' }));

var option = {
    animation: false,
    backgroundColor: '#fff',
    title: {
        text: 'Station Climate Summary: 06-15-1999 to 09-30-1999 (Monsoon Season)',
        left: 160, top: 80,
        textStyle: { fontFamily: FONT, fontSize: 58, fontWeight: 'bold', color: '#FF0000' }
    },
    legend: {
        data: ['1988', '1998', '1999'], orient: 'vertical', left: 268, top: 550, z: 20,
        icon: 'rect', itemWidth: 57, itemHeight: 4, itemGap: 43,
        textStyle: { fontFamily: FONT, fontSize: 28, fontWeight: 'bold', color: '#000', padding: [0, 0, 0, 21] }
    },
    grid: grids,
    xAxis: xAxes,
    yAxis: yAxes,
    series: series,
    graphic: { elements: graphics }
};

var chart = echarts.init(document.getElementById('chart'), null, { renderer: 'canvas' });
chart.setOption(option);
</script>
</body>
</html>
